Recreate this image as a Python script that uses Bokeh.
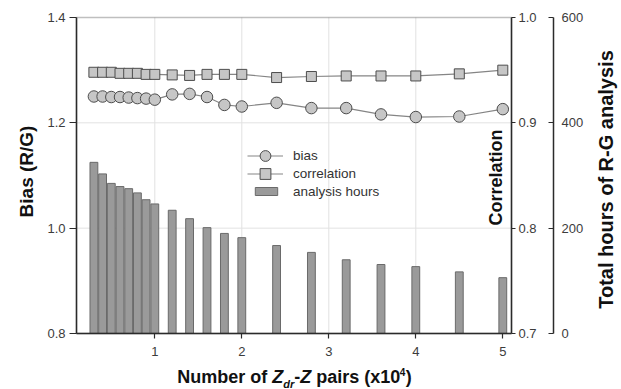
import math
from bokeh.plotting import figure
from bokeh.models import (Range1d, LinearAxis, FixedTicker, PrintfTickFormatter,
                          Label, Legend, LegendItem, BoxAnnotation)
from bokeh.embed import file_html
from bokeh.resources import INLINE

# ---------------- data ----------------
pairs_x1e4 = [0.3, 0.4, 0.5, 0.6, 0.7, 0.8, 0.9, 1.0, 1.2, 1.4, 1.6, 1.8, 2.0,
              2.4, 2.8, 3.2, 3.6, 4.0, 4.5, 5.0]
bias = [1.250, 1.250, 1.249, 1.249, 1.248, 1.247, 1.246, 1.244, 1.254, 1.255,
        1.249, 1.234, 1.231, 1.238, 1.228, 1.228, 1.216, 1.211, 1.212, 1.226]
correlation = [0.948, 0.948, 0.948, 0.947, 0.947, 0.947, 0.946, 0.946, 0.9455,
               0.945, 0.946, 0.946, 0.946, 0.943, 0.944, 0.9445, 0.9445, 0.9445,
               0.9465, 0.950]
analysis_hours = [325, 303, 285, 279, 275, 267, 254, 246, 234, 218, 201, 190,
                  182, 167, 154, 140, 131, 127, 117, 106]

x_lim = (0.1, 5.1)
bias_lim = (0.8, 1.4)
corr_lim = (0.7, 1.0)
hours_lim = (0, 600)

x_ticks = [1, 2, 3, 4, 5]
x_grid_ticks = [1, 2, 3, 4]
bias_ticks = [0.8, 1.0, 1.2, 1.4]
bias_grid_ticks = [1.0, 1.2]
corr_ticks = [0.7, 0.8, 0.9, 1.0]
hour_ticks = [0, 200, 400, 600]

legend_labels = ["bias", "correlation", "analysis hours"]
ylabel_left = "Bias (R/G)"
ylabel_corr = "Correlation"
ylabel_hours = "Total hours of R-G analysis"

# ---------------- layout (canvas pixels) ----------------
W, H = 621, 389
FL, FR, FT, FB = 76, 511, 17, 333      # data-area edges
HOURS_AXIS_X = 553                      # third axis position


def ext(lo, hi, p_lo, p_hi, c_lo, c_hi):
    """Range that maps lo->p_lo and hi->p_hi, extended to canvas c_lo..c_hi."""
    k = (hi - lo) / (p_hi - p_lo)
    return lo + (c_lo - p_lo) * k, hi + (c_hi - p_hi) * k


xr = ext(x_lim[0], x_lim[1], FL, FR, 0, W)
yb = ext(bias_lim[0], bias_lim[1], H - FB, H - FT, 0, H)
yc = ext(corr_lim[0], corr_lim[1], H - FB, H - FT, 0, H)
yh = ext(hours_lim[0], hours_lim[1], H - FB, H - FT, 0, H)
hours_axis_loc = x_lim[0] + (HOURS_AXIS_X - FL) * (x_lim[1] - x_lim[0]) / (FR - FL)

FONT = "Liberation Sans"
AX = "#2b2b2b"
TICK_TXT = "#3c3c3c"
GRID = "#e2e2e2"

p = figure(width=W, height=H, x_range=Range1d(*xr), y_range=Range1d(*yb),
           output_backend="svg", toolbar_location=None, min_border=0,
           min_border_left=0, min_border_right=0, min_border_top=0,
           min_border_bottom=0)
p.extra_y_ranges = {"corr": Range1d(*yc), "hours": Range1d(*yh)}
p.background_fill_color = "white"
p.border_fill_color = "white"
p.outline_line_color = None
p.grid.visible = False


def style_axis(ax, ticks, fmt, tick_in, tick_out, standoff, loc, bounds):
    ax.fixed_location = loc
    ax.bounds = bounds
    ax.ticker = FixedTicker(ticks=ticks, minor_ticks=[])
    ax.formatter = PrintfTickFormatter(format=fmt)
    ax.major_tick_in = tick_in
    ax.major_tick_out = tick_out
    ax.minor_tick_line_color = None
    ax.major_label_standoff = standoff
    ax.axis_line_color = AX
    ax.axis_line_width = 1.5
    ax.major_tick_line_color = AX
    ax.major_tick_line_width = 1.2
    ax.major_label_text_font = FONT
    ax.major_label_text_font_size = "13px"
    ax.major_label_text_color = TICK_TXT


style_axis(p.xaxis[0], x_ticks, "%d", 0, 5, 8, bias_lim[0], x_lim)
style_axis(p.yaxis[0], bias_ticks, "%.1f", 0, 7, 4, x_lim[0], bias_lim)

corr_axis = LinearAxis(y_range_name="corr")
style_axis(corr_axis, corr_ticks, "%.1f", 0, 4, 3, x_lim[1], corr_lim)
p.add_layout(corr_axis, "right")

hours_axis = LinearAxis(y_range_name="hours")
style_axis(hours_axis, hour_ticks, "%d", 5, 0, 8, hours_axis_loc, hours_lim)
p.add_layout(hours_axis, "right")

# grid lines limited to the data area
p.segment(x0=x_grid_ticks, y0=[bias_lim[0]] * len(x_grid_ticks),
          x1=x_grid_ticks, y1=[bias_lim[1]] * len(x_grid_ticks),
          line_color=GRID, line_width=1)
p.segment(x0=[x_lim[0]] * len(bias_grid_ticks), y0=bias_grid_ticks,
          x1=[x_lim[1]] * len(bias_grid_ticks), y1=bias_grid_ticks,
          line_color=GRID, line_width=1)

# ---------------- glyphs ----------------
bars = p.vbar(x=pairs_x1e4, top=analysis_hours, bottom=0, width=0.09,
              y_range_name="hours", fill_color="#9a9a9a", line_color="#6a6a6a",
              line_width=1)

bias_line = p.line(pairs_x1e4, bias, line_color="#858585", line_width=1.2)
bias_pts = p.scatter(pairs_x1e4, bias, marker="circle", size=11.5,
                     fill_color="#c6c6c6", line_color="#4d4d4d", line_width=1)

corr_line = p.line(pairs_x1e4, correlation, y_range_name="corr",
                   line_color="#858585", line_width=1.2)
corr_pts = p.scatter(pairs_x1e4, correlation, y_range_name="corr", marker="square",
                     size=10, fill_color="#c6c6c6", line_color="#4d4d4d", line_width=1)

# frame border (top edge visible; others coincide with axes)
p.add_layout(BoxAnnotation(left=x_lim[0], right=x_lim[1], bottom=bias_lim[0],
                           top=bias_lim[1], fill_color=None, fill_alpha=0,
                           line_color=AX, line_width=1.5))

# ---------------- legends (one per entry so each row can be sized) ----------
common = dict(orientation="vertical", padding=0, margin=0, spacing=0,
              border_line_color=None, background_fill_alpha=0, label_text_font=FONT,
              label_text_font_size="13.5px", label_text_color="#333333",
              label_height=18)
leg_bias = Legend(items=[LegendItem(label=legend_labels[0],
                                    renderers=[bias_line, bias_pts])],
                  location=(247, H - 168.5), glyph_width=36, glyph_height=27,
                  label_standoff=10, **common)
leg_corr = Legend(items=[LegendItem(label=legend_labels[1],
                                    renderers=[corr_line, corr_pts])],
                  location=(247, H - 186.5), glyph_width=36, glyph_height=27,
                  label_standoff=10, **common)
leg_bars = Legend(items=[LegendItem(label=legend_labels[2], renderers=[bars])],
                  location=(252, H - 200), glyph_width=28, glyph_height=10,
                  label_standoff=13, **common)
for lg in (leg_bias, leg_corr, leg_bars):
    p.add_layout(lg)


# ---------------- titles (canvas pixels, converted to bottom-origin) ----------
def add_label(text, cx, cy, size, angle=0.0, align="center", baseline="middle",
              style="bold"):
    p.add_layout(Label(x=cx, y=H - cy, x_units="screen", y_units="screen", text=text,
                       angle=angle, text_font=FONT, text_font_style=style,
                       text_font_size=size, text_align=align,
                       text_baseline=baseline, text_color="#111111"))


add_label(ylabel_left, 26, 171, "19px", angle=math.pi / 2)
add_label(ylabel_corr, 495, 177, "18px", angle=math.pi / 2)
add_label(ylabel_hours, 605, 179, "20px", angle=math.pi / 2)

# x-axis title with subscript / superscript pieces (vertical centres)
MY = 376
add_label("Number of", 176.7, MY, "18px", align="left")
add_label("Z", 271.7, MY, "18px", align="left", style="bold italic")
add_label("dr", 282.7, MY + 7.5, "11px", align="left", style="bold italic")
add_label("-", 293.7, MY, "18px", align="left")
add_label("Z", 299.7, MY, "18px", align="left", style="bold italic")
add_label("pairs (x10", 315.7, MY, "18px", align="left")
add_label("4", 399.2, MY - 5, "10px", align="left")
add_label(")", 405.3, MY, "18px", align="left")

open("out.html", "w").write(file_html(p, INLINE))
